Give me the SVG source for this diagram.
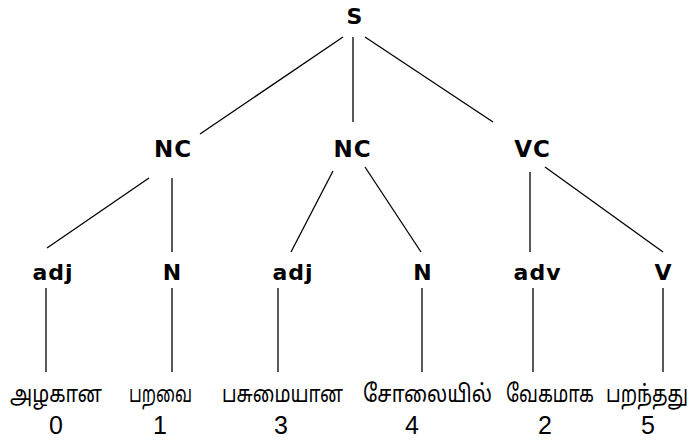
<svg xmlns="http://www.w3.org/2000/svg" width="694" height="442" viewBox="0 0 694 442">
<style>
.lbl{font-family:"DejaVu Sans",sans-serif;font-weight:bold;fill:#000;text-anchor:middle;letter-spacing:1px}
.top{font-size:22px}
.mid{font-size:23px}
.pos{font-size:22px}
.word{font-family:"Liberation Sans","Noto Sans Tamil","Lohit Tamil","Noto Sans",sans-serif;font-size:24px;fill:#000}
.idx{font-family:"Liberation Sans",Arial,sans-serif;font-size:25px;fill:#000;text-anchor:middle}
.edges line{stroke:#000;stroke-width:1.3}
</style>
<rect width="694" height="442" fill="#fff"/>
<g class="edges" id="connectors">
<line x1="343" y1="37" x2="200" y2="134"/>
<line x1="353" y1="37" x2="353" y2="122"/>
<line x1="365" y1="37" x2="493" y2="122"/>
<line x1="149" y1="178" x2="47" y2="248"/>
<line x1="172" y1="178" x2="172" y2="252"/>
<line x1="333" y1="171" x2="291" y2="252"/>
<line x1="365" y1="167" x2="421" y2="252"/>
<line x1="530" y1="172" x2="530" y2="252"/>
<line x1="545" y1="167" x2="663" y2="252"/>
<line x1="46" y1="288" x2="46" y2="372"/>
<line x1="172" y1="288" x2="172" y2="372"/>
<line x1="278" y1="288" x2="278" y2="372"/>
<line x1="422" y1="288" x2="422" y2="372"/>
<line x1="533" y1="288" x2="533" y2="372"/>
<line x1="663" y1="288" x2="663" y2="372"/>
</g>
<g id="S"><text class="lbl top" x="355" y="24">S</text></g>
<g id="NC1"><text class="lbl mid" x="173" y="157">NC</text></g>
<g id="NC2"><text class="lbl mid" x="352.5" y="157">NC</text></g>
<g id="VC"><text class="lbl mid" x="532.5" y="157">VC</text></g>
<g id="adj1"><text class="lbl pos" x="53" y="280">adj</text></g>
<g id="N1"><text class="lbl pos" x="172.5" y="280">N</text></g>
<g id="adj2"><text class="lbl pos" x="293" y="280">adj</text></g>
<g id="N2"><text class="lbl pos" x="423" y="280">N</text></g>
<g id="adv"><text class="lbl pos" x="537.5" y="280">adv</text></g>
<g id="V"><text class="lbl pos" x="663.5" y="280">V</text></g>
<g id="w0"><text class="word" x="10" y="402" textLength="92" lengthAdjust="spacingAndGlyphs">அழகான</text><text class="idx" x="56" y="434">0</text></g>
<g id="w1"><text class="word" x="129" y="402" textLength="63" lengthAdjust="spacingAndGlyphs">பறவை</text><text class="idx" x="160" y="434">1</text></g>
<g id="w3"><text class="word" x="222" y="402" textLength="121" lengthAdjust="spacingAndGlyphs">பசுமையான</text><text class="idx" x="281" y="434">3</text></g>
<g id="w4"><text class="word" x="363" y="402" textLength="129" lengthAdjust="spacingAndGlyphs">சோலையில்</text><text class="idx" x="412" y="434">4</text></g>
<g id="w2"><text class="word" x="506" y="402" textLength="88" lengthAdjust="spacingAndGlyphs">வேகமாக</text><text class="idx" x="545" y="434">2</text></g>
<g id="w5"><text class="word" x="606" y="402" textLength="82" lengthAdjust="spacingAndGlyphs">பறந்தது</text><text class="idx" x="648" y="434">5</text></g>
</svg>
